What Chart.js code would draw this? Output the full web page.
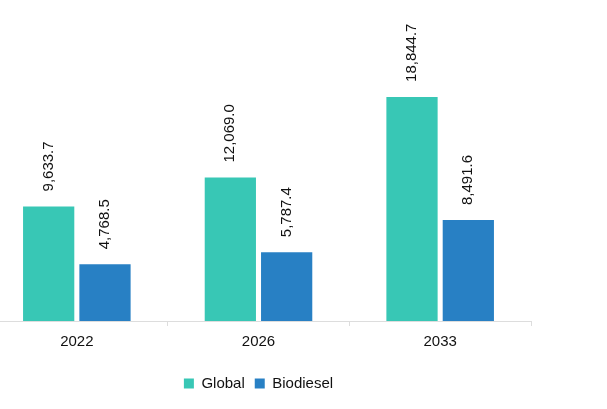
<!DOCTYPE html>
<html>
<head>
<meta charset="utf-8">
<script src="https://cdn.jsdelivr.net/npm/chart.js@4.4.0/dist/chart.umd.min.js"></script>
<style>
	body { margin: 0; background: #fff; overflow: hidden; }
	#box { position: absolute; left: -14px; top: 0; width: 550px; height: 409px; }
</style>
</head>
<body>
<div id="box"><canvas id="myChart"></canvas></div>
<script>
// 資料
var years = ['2022', '2026', '2033'];
var globalValues = [9633.7, 12069.0, 18844.7];
var biodieselValues = [4768.5, 5787.4, 8491.6];

// 柱子上方的數值（旋轉 90 度）
var valueLabels = {
	id: 'valueLabels',
	afterDatasetsDraw: function(chart) {
		var ctx = chart.ctx;
		ctx.save();
		ctx.font = '15px "Liberation Sans", Arial, sans-serif';
		ctx.fillStyle = '#111';
		ctx.textAlign = 'left';
		ctx.textBaseline = 'middle';
		chart.data.datasets.forEach(function(ds, i) {
			var meta = chart.getDatasetMeta(i);
			meta.data.forEach(function(bar, j) {
				var txt = ds.data[j].toLocaleString('en-US', { minimumFractionDigits: 1, maximumFractionDigits: 1 });
				ctx.save();
				ctx.translate(bar.x, bar.y - 15);
				ctx.rotate(-Math.PI / 2);
				ctx.fillText(txt, 0, 0);
				ctx.restore();
			});
		});
		ctx.restore();
	}
};

var myChart = new Chart(document.getElementById('myChart'), {
	type: 'bar',
	data: {
		labels: years,
		datasets: [{
			label: 'Global',
			data: globalValues,
			backgroundColor: '#38C7B5'
		}, {
			label: 'Biodiesel',
			data: biodieselValues,
			backgroundColor: '#2880C4'
		}]
	},
	options: {
		responsive: true,
		maintainAspectRatio: false,
		animation: false,
		categoryPercentage: 0.62,
		barPercentage: 0.91,
		layout: { padding: { top: 0, right: 5, left: 0, bottom: 8 } },
		plugins: {
			legend: {
				position: 'bottom',
				labels: {
					boxWidth: 10,
					boxHeight: 10,
					color: '#111',
					font: { size: 15, family: '"Liberation Sans", Arial, sans-serif' }
				}
			},
			tooltip: { enabled: false }
		},
		scales: {
			x: {
				grid: { drawOnChartArea: false, color: '#ddd', tickLength: 5 },
				border: { color: '#ddd' },
				ticks: {
					color: '#111',
					padding: 7,
					font: { size: 15, family: '"Liberation Sans", Arial, sans-serif' }
				},
				// 標籤和圖例之間多留一點空間
				afterFit: function(scale) {
					scale.height += 8;
				}
			},
			y: {
				display: false,
				min: 0,
				max: 27000
			}
		}
	},
	plugins: [valueLabels]
});
</script>
</body>
</html>
